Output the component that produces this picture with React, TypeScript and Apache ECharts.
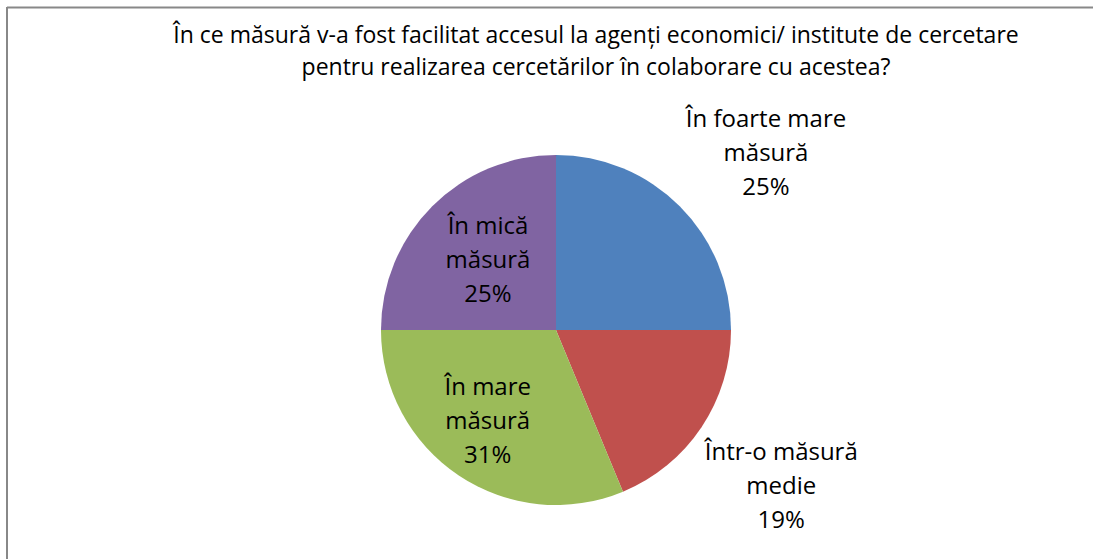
import React, { useEffect, useRef } from "react";
import * as echarts from "echarts";

const titleLines = [
  "În ce măsură v-a fost facilitat accesul la agenți economici/ institute de cercetare",
  "pentru realizarea cercetărilor în colaborare cu acestea?",
];
const categories = [
  "În foarte mare\nmăsură",
  "Într-o măsură\nmedie",
  "În mare\nmăsură",
  "În mică\nmăsură",
];
const values = [25, 18.75, 31.25, 25];
const colors = ["#4F81BD", "#C0504D", "#9BBB59", "#8064A2"];
const labelOffsets = [
  [146, -115],
  [150, 104],
  [-18, 14],
  [-4, -8],
];

const FONT = "'Open Sans', 'Noto Sans', sans-serif";

export default function App() {
  const ref = useRef<HTMLDivElement>(null);
  useEffect(() => {
    const chart = echarts.init(ref.current!, null, { renderer: "svg" });
    chart.setOption({
      animation: false,
      backgroundColor: "#fff",
      title: {
        text: titleLines.join("\n"),
        left: 591,
        top: 13,
        textAlign: "center",
        textStyle: {
          fontFamily: FONT,
          fontWeight: "normal",
          fontSize: 23,
          lineHeight: 32,
          color: "#000",
        },
      },
      graphic: [
        {
          type: "line",
          shape: { x1: 7, y1: 7.5, x2: 1093, y2: 7.5 },
          style: { stroke: "#888", lineWidth: 2 },
          silent: true,
        },
        {
          type: "line",
          shape: { x1: 7, y1: 7, x2: 7, y2: 559 },
          style: { stroke: "#888", lineWidth: 2 },
          silent: true,
        },
      ],
      series: [
        {
          type: "pie",
          center: [556, 330],
          radius: 175,
          startAngle: 90,
          clockwise: true,
          avoidLabelOverlap: false,
          labelLine: { show: false },
          data: categories.map((name, i) => ({
            name,
            value: values[i],
            itemStyle: { color: colors[i] },
            label: { offset: labelOffsets[i] },
          })),
          label: {
            show: true,
            position: "inside",
            formatter: (p: any) => `${p.name}\n${Math.round(p.percent)}%`,
            fontFamily: FONT,
            fontSize: 24,
            lineHeight: 34,
            color: "#000",
            align: "center",
          },
        },
      ],
    });
    return () => chart.dispose();
  }, []);
  return (
    <div
      ref={ref}
      style={{ position: "fixed", left: 0, top: 0, width: 1093, height: 559 }}
    />
  );
}
